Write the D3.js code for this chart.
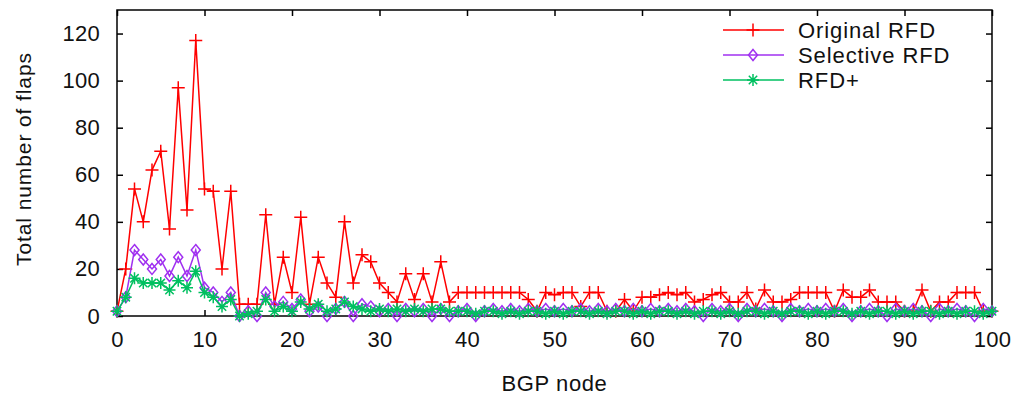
<!DOCTYPE html>
<html><head><meta charset="utf-8">
<script src="https://cdn.jsdelivr.net/npm/d3@7"></script>
<style>
html,body{margin:0;padding:0;background:#fff;}
svg{display:block;}
text{font-family:"Liberation Sans",Arial,sans-serif;fill:#111;}
</style></head>
<body>
<svg id="chart" width="1017" height="396"></svg>
<script>
// ---- data ----
const nodes = d3.range(0, 101);
const originalRFD = [2,20,54,40,62,70,37,97,45,117,54,53,20,53,5,5,5,43,5,25,
  10,42,5,25,14,8,40,14,26,23,14,10,6,18,7,18,6,23,6,10,
  10,10,10,10,10,10,10,7,2,10,9,10,10,4,10,10,2,2,7,2,
  8,8,9,10,9,10,6,7,9,10,6,6,10,3,11,6,6,7,10,10,
  10,10,2,11,8,8,11,6,6,6,2,2,11,2,6,6,10,10,10,2,2];
const selectiveRFD = [2,8,28,24,20,24,17,25,17,28,12,10,6,10,0,2,0,10,4,6,
  3,7,2,4,0,3,6,0,5,4,2,3,0,3,2,3,0,3,0,2,
  3,0,2,3,2,3,2,3,2,3,2,3,2,3,2,3,2,3,2,3,
  2,3,2,3,2,3,2,0,3,2,3,0,3,2,3,2,0,3,2,3,
  2,3,2,3,0,2,3,2,0,3,2,3,2,0,3,2,3,2,0,3,2];
const rfdPlus = [2,8,16,14,14,14,11,15,12,19,10,8,4,7,0,1,2,7,2,4,
  2,6,3,5,2,3,6,4,3,2,3,2,3,2,3,2,3,3,2,2,
  2,1,2,2,1,2,1,2,2,1,2,1,2,2,1,2,1,2,2,1,
  2,1,2,2,1,2,1,2,2,1,2,1,2,2,1,2,1,2,2,1,
  2,1,2,2,1,2,1,2,2,1,2,1,2,2,1,2,1,2,2,1,2];
const seriesNames = ["Original RFD", "Selective RFD", "RFD+"];
const xTicks = [0,10,20,30,40,50,60,70,80,90,100];
const yTicks = [0,20,40,60,80,100,120];
const xLabel = "BGP node";
const yLabel = "Total number of flaps";

// ---- layout ----
const L = 117, R = 992, T = 10, B = 316;
const FS = 22;
const svg = d3.select("#chart");
const x = d3.scaleLinear().domain([0,100]).range([L,R]);
const y = d3.scaleLinear().domain([0,130]).range([B,T]);

const colors = ["#ff0000", "#a030f0", "#00c060"];
const symbols = [
  "M-6.5,0H6.5M0,-6.5V6.5",
  "M0,-5.5L4.5,0L0,5.5L-4.5,0Z",
  "M-6,0H6M0,-6V6M-4.2,-4.2L4.2,4.2M-4.2,4.2L4.2,-4.2"
];
const series = [originalRFD, selectiveRFD, rfdPlus];

// frame
svg.append("rect").attr("x",L).attr("y",T).attr("width",R-L).attr("height",B-T)
  .attr("fill","none").attr("stroke","#000").attr("stroke-width",1.5);

// axes (ticks inward) using d3 axes
const gx = svg.append("g").attr("transform",`translate(0,${B})`)
  .call(d3.axisBottom(x).tickValues(xTicks).tickSize(-6).tickPadding(15).tickFormat(d3.format("d")));
const gxt = svg.append("g").attr("transform",`translate(0,${T})`)
  .call(d3.axisTop(x).tickValues(xTicks).tickSize(-6).tickFormat(""));
const gy = svg.append("g").attr("transform",`translate(${L},0)`)
  .call(d3.axisLeft(y).tickValues(yTicks).tickSize(-6).tickPadding(17).tickFormat(d3.format("d")));
const gyr = svg.append("g").attr("transform",`translate(${R},0)`)
  .call(d3.axisRight(y).tickValues(yTicks).tickSize(-6).tickFormat(""));
[gx,gxt,gy,gyr].forEach(g=>{
  g.select(".domain").remove();
  g.selectAll(".tick line").attr("stroke","#000").attr("stroke-width",1.5);
  g.selectAll(".tick text").attr("font-size",FS).attr("fill","#111").attr("letter-spacing",0.3)
   .attr("font-family","Liberation Sans, Arial, sans-serif");
});

// axis labels
svg.append("text").attr("x",(L+R)/2).attr("y",391).attr("text-anchor","middle")
  .attr("font-size",FS).attr("letter-spacing",0.6).text(xLabel);
svg.append("text").attr("transform",`translate(31,${(T+B)/2-4}) rotate(-90)`)
  .attr("text-anchor","middle").attr("font-size",FS-1).attr("letter-spacing",0.9).text(yLabel);

// series
const line = d3.line().x((d,i)=>x(nodes[i])).y(d=>y(d));
series.forEach((s,k)=>{
  const g = svg.append("g");
  g.append("path").datum(s).attr("d",line).attr("fill","none")
    .attr("stroke",colors[k]).attr("stroke-width",1.5);
  g.selectAll("path.m").data(s).join("path").attr("class","m")
    .attr("transform",(d,i)=>`translate(${x(nodes[i])},${y(d)})`)
    .attr("d",symbols[k]).attr("fill","none").attr("stroke",colors[k]).attr("stroke-width",1.5);
});

// legend
const legY = [30,55,80];
seriesNames.forEach((name,k)=>{
  const g = svg.append("g");
  g.append("line").attr("x1",723).attr("x2",784).attr("y1",legY[k]).attr("y2",legY[k])
    .attr("stroke",colors[k]).attr("stroke-width",1.5);
  g.append("path").attr("transform",`translate(753,${legY[k]})`).attr("d",symbols[k])
    .attr("fill","none").attr("stroke",colors[k]).attr("stroke-width",1.5);
  g.append("text").attr("x",798).attr("y",legY[k]+8).attr("font-size",FS)
    .attr("letter-spacing",0.9).text(name);
});
</script>
</body></html>
